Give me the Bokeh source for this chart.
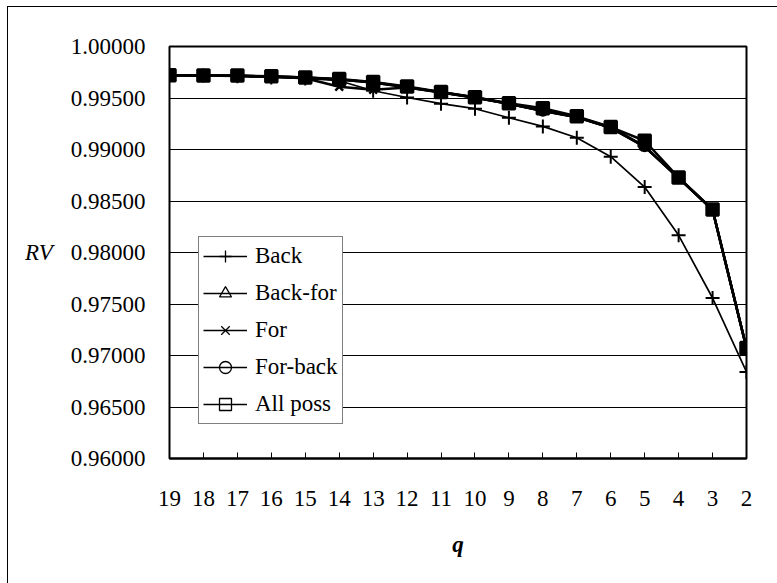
from bokeh.plotting import figure
from bokeh.models import Range1d, FixedTicker, PrintfTickFormatter, Legend, LegendItem, InlineStyleSheet
from bokeh.embed import file_html
from bokeh.resources import INLINE

# ---- data ----
q_labels = ["19", "18", "17", "16", "15", "14", "13", "12", "11", "10", "9", "8", "7", "6", "5", "4", "3", "2"]
back = [0.99720, 0.99718, 0.99712, 0.99700, 0.99690, 0.99668, 0.99570, 0.99505, 0.99445, 0.99396,
        0.99308, 0.99224, 0.99114, 0.98930, 0.98635, 0.98167, 0.97558, 0.96841]
back_for = [0.99720, 0.99719, 0.99716, 0.99708, 0.99698, 0.99680, 0.99650, 0.99605, 0.99555, 0.99505,
            0.99445, 0.99375, 0.99315, 0.99212, 0.99030, 0.98725, 0.98415, 0.97070]
forw = [0.99720, 0.99719, 0.99714, 0.99706, 0.99692, 0.99610, 0.99580, 0.99603, 0.99553, 0.99503,
        0.99443, 0.99373, 0.99313, 0.99210, 0.99025, 0.98723, 0.98414, 0.97070]
for_back = [0.99720, 0.99719, 0.99716, 0.99708, 0.99698, 0.99680, 0.99650, 0.99605, 0.99555, 0.99505,
            0.99445, 0.99375, 0.99315, 0.99212, 0.99030, 0.98725, 0.98415, 0.97070]
all_poss = [0.99720, 0.99719, 0.99718, 0.99710, 0.99700, 0.99684, 0.99655, 0.99612, 0.99558, 0.99508,
            0.99450, 0.99400, 0.99322, 0.99218, 0.99085, 0.98728, 0.98418, 0.97073]
y_ticks = [0.96, 0.965, 0.97, 0.975, 0.98, 0.985, 0.99, 0.995, 1.0]
y_min, y_max = 0.96, 1.0

xs = list(range(len(q_labels)))
NAN = float("nan")
FONT = "Liberation Serif"

frame_css = InlineStyleSheet(css="""
:host { position: relative; }
:host::after {
  content: ""; position: absolute; left: 7px; top: 6px; right: -20px; bottom: -20px;
  border-top: 1px solid black; border-left: 1px solid black;
  pointer-events: none; z-index: 10;
}
""")

p = figure(width=777, height=583, output_backend="svg", toolbar_location=None,
           x_range=Range1d(0, len(q_labels) - 1), y_range=Range1d(y_min, y_max),
           min_border_left=169, min_border_right=31, min_border_top=46, min_border_bottom=125,
           stylesheets=[frame_css])
p.background_fill_color = "white"
p.border_fill_color = "white"
p.outline_line_color = "black"
p.outline_line_width = 2

# grid
p.xgrid.visible = False
p.ygrid.ticker = FixedTicker(ticks=y_ticks)
p.ygrid.grid_line_color = "black"
p.ygrid.grid_line_width = 1

# y axis
p.yaxis.ticker = FixedTicker(ticks=y_ticks)
p.yaxis.formatter = PrintfTickFormatter(format="%.5f")
p.yaxis.axis_line_color = None
p.yaxis.major_tick_line_color = None
p.yaxis.minor_tick_line_color = None
p.yaxis.major_tick_out = 0
p.yaxis.major_tick_in = 0
p.yaxis.major_label_standoff = 24
p.yaxis.major_label_text_font = FONT
p.yaxis.major_label_text_font_size = "23px"
p.yaxis.major_label_text_color = "black"
p.yaxis.axis_label = "RV"
p.yaxis.axis_label_orientation = "horizontal"
p.yaxis.axis_label_text_font = FONT
p.yaxis.axis_label_text_font_style = "italic"
p.yaxis.axis_label_text_font_size = "23px"
p.yaxis.axis_label_text_color = "black"
p.yaxis.axis_label_standoff = 15

# x axis
p.xaxis.ticker = FixedTicker(ticks=xs)
p.xaxis.major_label_overrides = {i: lab for i, lab in zip(xs, q_labels)}
p.xaxis.axis_line_color = "black"
p.xaxis.axis_line_width = 2
p.xaxis.major_tick_in = 6
p.xaxis.major_tick_out = 0
p.xaxis.major_tick_line_color = "black"
p.xaxis.major_tick_line_width = 1
p.xaxis.minor_tick_line_color = None
p.xaxis.major_label_standoff = 32
p.xaxis.major_label_text_font = FONT
p.xaxis.major_label_text_font_size = "23px"
p.xaxis.major_label_text_color = "black"
p.xaxis.axis_label = "q"
p.xaxis.axis_label_text_font = FONT
p.xaxis.axis_label_text_font_style = "bold italic"
p.xaxis.axis_label_text_font_size = "23px"
p.xaxis.axis_label_text_color = "black"
p.xaxis.axis_label_standoff = 23

# (name, values, marker, plot size, plot fill, line width, legend size)
series = [
    ("Back", back, "cross", 14, None, 1.7, 12),
    ("Back-for", back_for, "triangle", 10, "black", 2.5, 8),
    ("For", forw, "x", 11, None, 2.5, 9),
    ("For-back", for_back, "circle", 9, "black", 2.5, 7),
    ("All poss", all_poss, "square", 12, "black", 2.5, 8),
]
items = []
for name, ys, marker, size, fill, lw, lsize in series:
    p.line(xs, ys, line_color="black", line_width=lw)
    p.scatter(xs, ys, marker=marker, size=size, line_color="black",
              fill_color=fill, line_width=2.5 if marker != "cross" else 2)
    # undrawn (NaN) renderers that only provide the legend swatch
    ll = p.line([NAN], [NAN], line_color="black", line_width=1.5)
    lm = p.scatter([NAN], [NAN], marker=marker, size=lsize, line_color="black",
                   fill_color=None, line_width=1.3)
    items.append(LegendItem(label=name, renderers=[ll, lm]))

legend = Legend(items=items, location=(29, 34))
legend.label_text_font = FONT
legend.label_text_font_size = "23px"
legend.label_text_color = "black"
legend.glyph_width = 44
legend.glyph_height = 30
legend.label_height = 30
legend.label_standoff = 8
legend.spacing = 7
legend.padding = 4
legend.margin = 0
legend.border_line_color = "black"
legend.border_line_width = 1
legend.background_fill_color = "white"
legend.background_fill_alpha = 1
p.add_layout(legend, "center")

open("out.html", "w").write(file_html(p, INLINE))
